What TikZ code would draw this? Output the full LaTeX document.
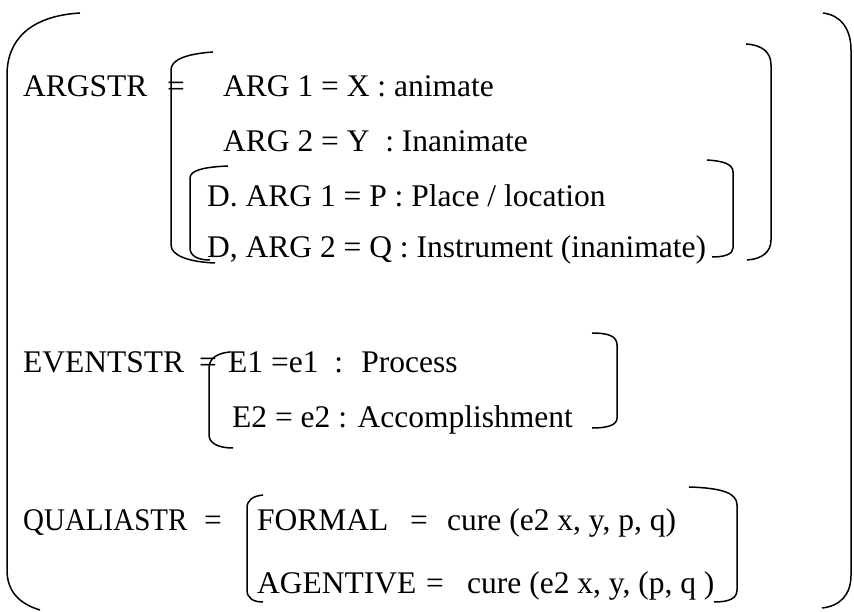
\documentclass[tikz,border=0pt]{standalone}
\usepackage{fontspec}
\setmainfont{Liberation Serif}
\usepackage{tikz}
\usetikzlibrary{positioning}

\tikzset{
    txt/.style={anchor=base west, inner sep=0pt, font=\fontsize{31.5}{38}\selectfont},
    brk/.style={line width=1.5pt}
}

\begin{document}
\begin{tikzpicture}[x=1pt, y=-1pt]
    \useasboundingbox (0,0) rectangle (854,612);

    % 外括号
    \draw[brk] (80,13) .. controls (30,16) and (7,40) .. (7,75) -- (7,570) .. controls (7,592) and (20,604) .. (40,610);
    \draw[brk] (823,13) .. controls (840,15) and (851,28) .. (851,50) -- (851,575) .. controls (851,595) and (840,606) .. (822,608);

    % ARGSTR
    \node[txt] (argstr) at (23,97) {ARGSTR};
    \node[txt] (argeq) at (167,97) {=};
    \node[txt] (arg1) at (223,97) {ARG 1 = X : animate};
    \node[txt] (arg2) at (223,152) {ARG 2 = Y \ : Inanimate};
    \node[txt] (darg1) at (207,207) {D. ARG 1 = P : Place / location};
    \node[txt] (darg2) at (207,258) {D, ARG 2 = Q : Instrument (inanimate)};
    \draw[brk] (213,52) .. controls (185,54) and (171,60) .. (171,70) -- (171,245) .. controls (171,256) and (190,262) .. (215,263);
    \draw[brk] (746,44) .. controls (762,45) and (771,52) .. (771,65) -- (771,240) .. controls (771,252) and (762,259) .. (747,260);
    \draw[brk] (228,166) .. controls (205,167) and (190,170) .. (190,178) -- (190,248) .. controls (190,256) and (198,260) .. (210,260);
    \draw[brk] (707,160) .. controls (723,161) and (733,164) .. (733,172) -- (733,248) .. controls (733,254) and (725,257) .. (712,257);

    % EVENTSTR
    \node[txt] (eventstr) at (23,372) {EVENTSTR};
    \node[txt] (eventeq) at (199,372) {=};
    \node[txt] (e1) at (228,372) {E1 =e1 \ : \ Process};
    \node[txt] (e2) at (232,427) {E2 = e2 : Accomplishment};
    \draw[brk] (230,352) .. controls (218,353) and (209,358) .. (209,368) -- (209,435) .. controls (209,443) and (218,448) .. (233,448);
    \draw[brk] (592,333) .. controls (608,333) and (617,336) .. (617,345) -- (617,418) .. controls (617,425) and (608,428) .. (592,428);

    % QUALIASTR
    \node[txt] (qualiastr) at (23,530) {\scalebox{0.92}[1]{QUALIASTR}};
    \node[txt] (qualeq) at (204,530) {=};
    \node[txt] (formal) at (257,530) {FORMAL};
    \node[txt] (formaleq) at (410,530) {=};
    \node[txt] (formalval) at (447,530) {cure (e2 x, y, p, q)};
    \node[txt] (agentive) at (257,593) {AGENTIVE};
    \node[txt] (agenteq) at (426,593) {=};
    \node[txt] (agentval) at (467,593) {cure (e2 x, y, (p, q )};
    \draw[brk] (263,495) .. controls (253,496) and (247,500) .. (247,508) -- (247,590) .. controls (247,598) and (253,602) .. (263,602);
    \draw[brk] (689,487) .. controls (722,488) and (737,493) .. (737,505) -- (737,590) .. controls (737,598) and (730,602) .. (714,602);
\end{tikzpicture}
\end{document}
